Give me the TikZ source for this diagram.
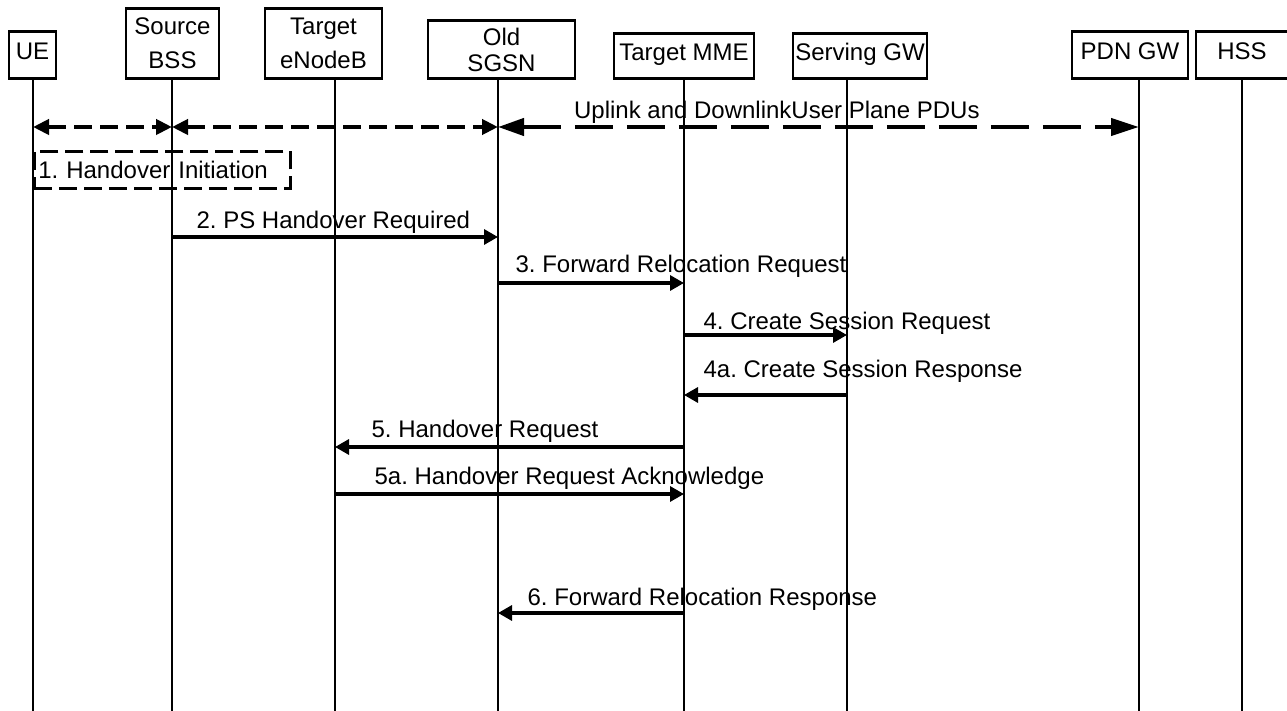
\documentclass[tikz,border=0pt]{standalone}
\usepackage{fontspec}
\setmainfont{Liberation Sans}
\usetikzlibrary{arrows.meta,positioning}
\frenchspacing

\begin{document}
\begin{tikzpicture}[x=0.5pt, y=-0.5pt,
  entity/.style={draw, line width=1.3pt, anchor=south, align=center, inner sep=1pt,
                 font=\fontsize{12}{14}\selectfont},
  onerow/.style={text height=8.6pt, text depth=4pt},
  life/.style={line width=1.1pt},
  msg/.style={-{Triangle[length=7pt,width=7.5pt]}, line width=1.6pt},
  lbl/.style={anchor=base west, inner sep=0pt, font=\fontsize{12}{14}\selectfont},
  userdash/.style={{Triangle[length=8pt,width=7.5pt]}-{Triangle[length=8pt,width=7.5pt]},
                   line width=2.1pt, dash pattern=on 9pt off 4pt},
  pdudash/.style={{Triangle[length=13pt,width=8.5pt]}-{Triangle[length=14pt,width=8.5pt]},
                  line width=2.1pt, dash pattern=on 19pt off 7pt},
  initbox/.style={draw, line width=1.3pt, dash pattern=on 9pt off 3.5pt, anchor=north west,
                  minimum width=128pt, minimum height=18.5pt, text width=124pt, inner sep=2pt,
                  align=left, font=\fontsize{12}{14}\selectfont}
]
\useasboundingbox (0,0) rectangle (1287,711);

% entities
\node[entity, onerow, minimum width=23.5pt, minimum height=23.5pt] (ue) at (32.5,80) {UE};
\node[entity, minimum width=46.5pt, minimum height=35pt] (bss) at (172.5,80) {Source\\[3pt]BSS};
\node[entity, minimum width=58.5pt, minimum height=35pt] (enb) at (323.5,80) {Target\\[3pt]eNodeB};
\node[entity, minimum width=73.5pt, minimum height=29pt] (sgsn) at (501.5,80) {Old\\[-1pt]SGSN};
\node[entity, onerow, minimum width=70pt, minimum height=22.5pt] (mme) at (684,80) {Target MME};
\node[entity, onerow, minimum width=67pt, minimum height=22.5pt] (sgw) at (860,80) {Serving GW};
\node[entity, onerow, minimum width=58pt, minimum height=23.5pt] (pgw) at (1130,80) {PDN GW};
\node[entity, onerow, minimum width=46pt, minimum height=23.5pt] (hss) at (1242,80) {HSS};

% lifelines
\coordinate (ue-l) at (33,80);
\coordinate (bss-l) at (172,80);
\coordinate (enb-l) at (335,80);
\coordinate (sgsn-l) at (498,80);
\coordinate (mme-l) at (684,80);
\coordinate (sgw-l) at (847,80);
\coordinate (pgw-l) at (1139,80);
\coordinate (hss-l) at (1242,80);

\draw[life] (ue-l) -- (ue-l |- 0,711);
\draw[life] (bss-l) -- (bss-l |- 0,711);
\draw[life] (enb-l) -- (enb-l |- 0,711);
\draw[life] (sgsn-l) -- (sgsn-l |- 0,711);
\draw[life] (mme-l) -- (mme-l |- 0,711);
\draw[life] (sgw-l) -- (sgw-l |- 0,711);
\draw[life] (pgw-l) -- (pgw-l |- 0,711);
\draw[life] (hss-l) -- (hss-l |- 0,711);

% user plane
\draw[userdash] (ue-l |- 0,127) -- (bss-l |- 0,127);
\draw[userdash] (bss-l |- 0,127) -- (sgsn-l |- 0,127);
\draw[pdudash] (sgsn-l |- 0,127) -- node[lbl, pos=0, xshift=37pt, yshift=4pt] {Uplink and DownlinkUser Plane PDUs} (pgw-l |- 0,127);

\node[initbox] (init) at (ue-l |- 0,150) {1. Handover Initiation};

% messages
\draw[msg] (bss-l |- 0,237) -- node[lbl, pos=0, xshift=11.5pt, yshift=4pt] {2. PS Handover Required} (sgsn-l |- 0,237);
\draw[msg] (sgsn-l |- 0,283) -- node[lbl, pos=0, xshift=8pt, yshift=5pt] {3. Forward Relocation Request} (mme-l |- 0,283);
\draw[msg] (mme-l |- 0,335) -- node[lbl, pos=0, xshift=9pt, yshift=2.5pt] {4. Create Session Request} (sgw-l |- 0,335);
\draw[msg] (sgw-l |- 0,395) -- node[lbl, pos=1, xshift=9pt, yshift=8.5pt] {4a. Create Session Response} (mme-l |- 0,395);
\draw[msg] (mme-l |- 0,447) -- node[lbl, pos=1, xshift=17.5pt, yshift=4.5pt] {5. Handover Request} (enb-l |- 0,447);
\draw[msg] (enb-l |- 0,494) -- node[lbl, pos=0, xshift=19pt, yshift=4.5pt] {5a. Handover Request Acknowledge} (mme-l |- 0,494);
\draw[msg] (mme-l |- 0,613) -- node[lbl, pos=1, xshift=14pt, yshift=4pt] {6. Forward Relocation Response} (sgsn-l |- 0,613);

\end{tikzpicture}
\end{document}
